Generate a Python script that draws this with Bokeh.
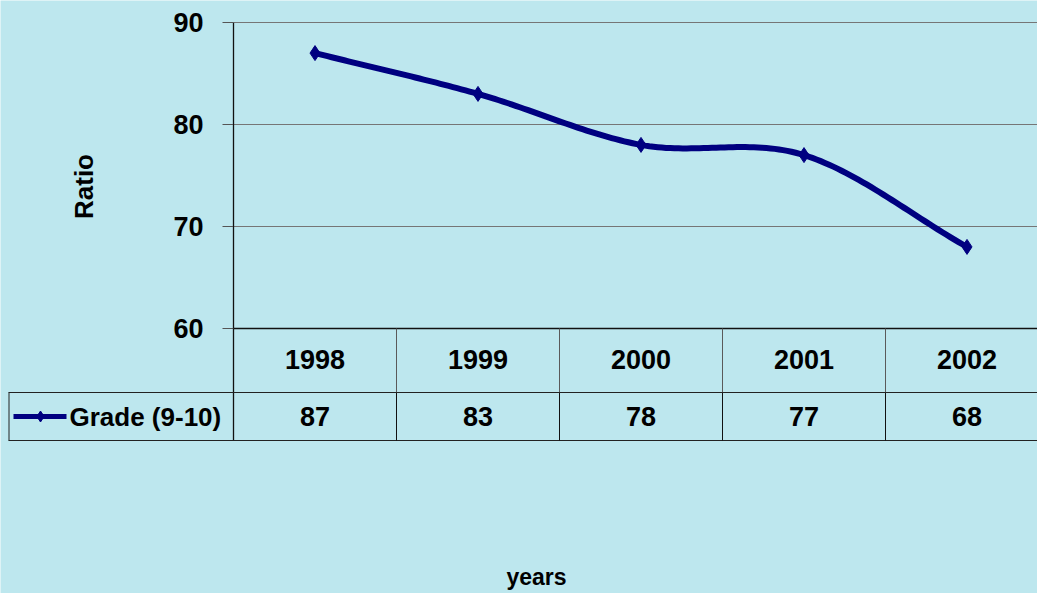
import numpy as np
from bokeh.plotting import figure
from bokeh.models import Range1d
from bokeh.core.properties import value
from bokeh.embed import file_html
from bokeh.resources import INLINE

# ---- data ----
years = ["1998", "1999", "2000", "2001", "2002"]
grade = [87, 83, 78, 77, 68]
series_name = "Grade (9-10)"
y_ticks = [60, 70, 80, 90]
x_title = "years"
y_title = "Ratio"

# ---- layout / style ----
W, H = 1037, 593
BG = "#bde7ee"
NAVY = "#000080"
FONT = value("Liberation Sans")

col_w = 163.0          # px per category
x0_px = 314.5          # canvas x of first category centre
ymin, ymax = min(y_ticks), max(y_ticks)
px_per_unit = 10.2
y_top_px = 22          # canvas y of ymax
x_start = -x0_px / col_w
x_end = (W - x0_px) / col_w
y_start = ymax - (H - y_top_px) / px_per_unit
y_end = ymax + y_top_px / px_per_unit

p = figure(width=W, height=H, x_range=Range1d(x_start, x_end),
           y_range=Range1d(y_start, y_end), output_backend="svg",
           toolbar_location=None, x_axis_type=None, y_axis_type=None,
           min_border=0, min_border_left=0, min_border_right=0,
           min_border_top=0, min_border_bottom=0,
           background_fill_color=BG, border_fill_color=BG,
           outline_line_color=None)
p.extra_x_ranges = {"px": Range1d(0, W)}
p.extra_y_ranges = {"px": Range1d(H, 0)}

n = len(years)
xs = np.arange(n)

# gridlines
gy = [t for t in y_ticks if t != ymin]
p.segment(x0=[-0.5] * len(gy), x1=[x_end] * len(gy), y0=gy, y1=gy,
          line_color="#767676", line_width=1)
# base line (60)
p.segment(x0=[-0.5], x1=[x_end], y0=[ymin], y1=[ymin], line_color="#111111", line_width=1.3)
# y axis line
p.segment(x0=[-0.5], x1=[-0.5], y0=[ymax], y1=[ymin], line_color="#111111", line_width=1.3)
# tick marks
p.segment(x0=[222] * len(y_ticks), x1=[232.5] * len(y_ticks), y0=y_ticks, y1=y_ticks,
          x_range_name="px", line_color="#555555", line_width=1)
# tick labels
p.text(x=[203] * len(y_ticks), y=y_ticks, text=[str(t) for t in y_ticks],
       x_range_name="px", text_font=FONT, text_font_style="bold",
       text_font_size="27px", text_align="right", text_baseline="middle",
       text_color="black")

# ---- data table ----
row1_top, row1_bot, row2_bot = 328, 392, 440
p.segment(x0=[-0.5], x1=[-0.5], y0=[row1_top], y1=[row2_bot],
          y_range_name="px", line_color="#111111", line_width=1.3)
p.segment(x0=[8, 8], x1=[W, W], y0=[row1_bot, row2_bot],
          y1=[row1_bot, row2_bot], x_range_name="px", y_range_name="px",
          line_color="#222222", line_width=1)
p.segment(x0=[8.5], x1=[8.5], y0=[row1_bot], y1=[row2_bot],
          x_range_name="px", y_range_name="px", line_color="#222222", line_width=1)
bx = [i + 0.5 for i in range(n - 1)]
p.segment(x0=bx, x1=bx, y0=[row1_top] * len(bx), y1=[row1_bot] * len(bx),
          y_range_name="px", line_color="#5a5a5a", line_width=1)
p.segment(x0=bx, x1=bx, y0=[row1_bot] * len(bx), y1=[row2_bot] * len(bx),
          y_range_name="px", line_color="#111111", line_width=1)

p.text(x=xs, y=[359] * n, text=years, y_range_name="px", text_font=FONT,
       text_font_style="bold", text_font_size="27px", text_align="center",
       text_baseline="middle", text_color="black")
p.text(x=xs, y=[416] * n, text=[str(v) for v in grade], y_range_name="px",
       text_font=FONT, text_font_style="bold", text_font_size="27px",
       text_align="center", text_baseline="middle", text_color="black")

# legend key
p.line(x=[13, 66], y=[416, 416], x_range_name="px", y_range_name="px",
       line_color=NAVY, line_width=5)
p.scatter(x=[40], y=[416], x_range_name="px", y_range_name="px", marker="diamond",
          size=11, fill_color=NAVY, line_color=NAVY)
p.text(x=[69], y=[416], text=[series_name], x_range_name="px", y_range_name="px",
       text_font=FONT, text_font_style="bold", text_font_size="26px",
       text_align="left", text_baseline="middle", text_color="black")

# ---- smoothed series line (Catmull-Rom / Hermite through data points) ----
g = np.array(grade, dtype=float)
m = np.zeros(n)
m[0] = g[1] - g[0]
m[-1] = g[-1] - g[-2]
for i in range(1, n - 1):
    m[i] = (g[i + 1] - g[i - 1]) / 2.0
cx, cy = [], []
t = np.linspace(0, 1, 40)
for i in range(n - 1):
    h00 = 2 * t**3 - 3 * t**2 + 1
    h10 = t**3 - 2 * t**2 + t
    h01 = -2 * t**3 + 3 * t**2
    h11 = t**3 - t**2
    cx.extend(list(i + t))
    cy.extend(list(h00 * g[i] + h10 * m[i] + h01 * g[i + 1] + h11 * m[i + 1]))
p.line(x=cx, y=cy, line_color=NAVY, line_width=6, line_join="round", line_cap="round")
p.scatter(x=xs, y=grade, marker="diamond", size=15, fill_color=NAVY, line_color=NAVY)

# ---- axis titles ----
p.text(x=[83], y=[186], text=[y_title], x_range_name="px", y_range_name="px",
       angle=np.pi / 2, text_font=FONT, text_font_style="bold", text_font_size="26px",
       text_align="center", text_baseline="middle", text_color="black")
p.text(x=[536], y=[576], text=[x_title], x_range_name="px", y_range_name="px",
       text_font=FONT, text_font_style="bold", text_font_size="23px",
       text_align="center", text_baseline="middle", text_color="black")

html = file_html(p, INLINE, title="Grade (9-10) ratio")
html = html.replace("<body>", '<body style="background-color:%s;">' % BG, 1)
open("out.html", "w").write(html)
